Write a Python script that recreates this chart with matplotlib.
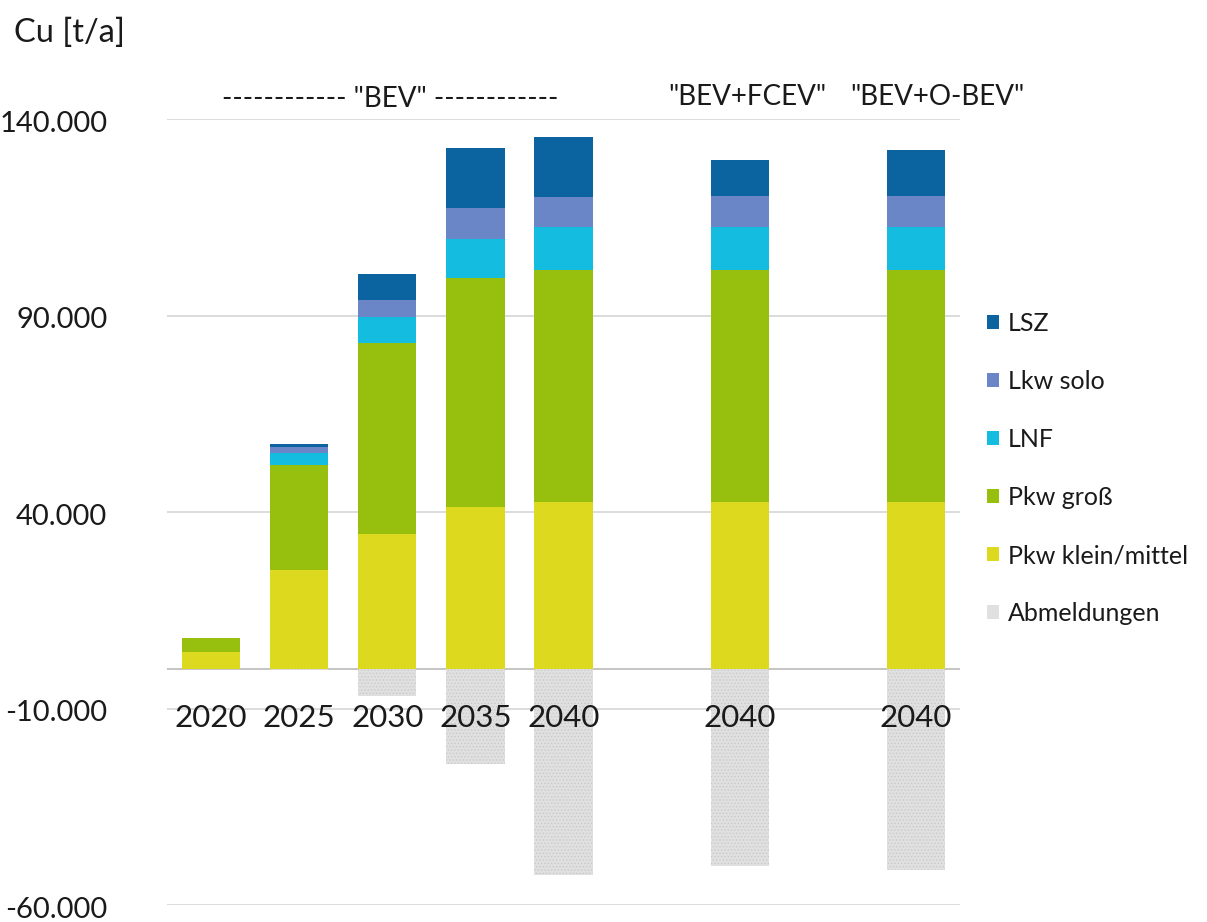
import numpy as np
import matplotlib
matplotlib.use("Agg")
import matplotlib.pyplot as plt
from matplotlib.patches import Patch
from matplotlib.transforms import ScaledTranslation

plt.rcParams['font.family'] = ['Lato', 'DejaVu Sans']
plt.rcParams['hatch.color'] = '#c9c9c9'
plt.rcParams['hatch.linewidth'] = 0.6

# Kupferbedarf je Fahrzeugsegment [t/a]
years = ['2020', '2025', '2030', '2035', '2040', '2040', '2040']
pkw_klein = [4300, 25300, 34400, 41300, 42500, 42500, 42500]
pkw_gross = [3600, 26700, 48700, 58300, 59100, 59100, 59100]
lnf = [0, 3000, 6500, 9900, 10900, 10800, 10800]
lkw_solo = [0, 1600, 4400, 7800, 7600, 7900, 7900]
lsz = [0, 700, 6500, 15300, 15300, 9300, 11700]
abmeldungen = [0, -300, -6900, -24000, -52300, -50000, -51200]

series = [
    ('Pkw klein/mittel', pkw_klein, '#dcd91e'),
    ('Pkw groß', pkw_gross, '#97bf0d'),
    ('LNF', lnf, '#14bde0'),
    ('Lkw solo', lkw_solo, '#6a86c6'),
    ('LSZ', lsz, '#0b64a0'),
]

# gaps between the BEV block and the two scenarios
xpos = np.array([0, 1, 2, 3, 4, 6, 8])
width = 0.66

fig = plt.figure(figsize=(12.07, 9.22), dpi=100)
ax = fig.add_axes([0.1384, 0.0184, 0.6570, 0.8525])

bottom = np.zeros(len(years))
for name, vals, col in series:
    ax.bar(xpos, vals, width, bottom=bottom, color=col, linewidth=0)
    bottom += np.array(vals)
ax.bar(xpos, abmeldungen, width, color='#e0e0e0', hatch='.....', linewidth=0)

ax.set_xlim(-0.5, 8.5)
ax.set_ylim(-60000, 140000)
yt = [-60000, -10000, 40000, 90000, 140000]
ax.set_yticks(yt)
ax.set_yticklabels([f'{v:,}'.replace(',', '.') for v in yt])
ax.yaxis.grid(True, color='#d9d9d9', lw=1.3)
ax.set_axisbelow(True)
ax.axhline(0, color='#c4c4c4', lw=1.4, zorder=0.5)
ax.set_xticks([])
ax.tick_params(axis='y', length=0, pad=43, labelsize=21, labelcolor='#1a1a1a')
# nudge the value labels a little below their gridline
shift = ScaledTranslation(0, -1.5 / 72, fig.dpi_scale_trans)
for t in ax.yaxis.get_major_ticks():
    t.label1.set_transform(t.label1.get_transform() + shift)
for s in ax.spines.values():
    s.set_visible(False)

for x, lab in zip(xpos, years):
    ax.text(x, -12400, lab, ha='center', va='center', fontsize=22.5, color='#1a1a1a')

ax.text(2.03, 145000, '------------ "BEV" ------------', ha='center', va='center',
        fontsize=20, color='#1a1a1a', clip_on=False)
ax.text(6.08, 145500, '"BEV+FCEV"', ha='center', va='center', fontsize=20,
        color='#1a1a1a', clip_on=False)
ax.text(8.24, 145500, '"BEV+O-BEV"', ha='center', va='center', fontsize=20,
        color='#1a1a1a', clip_on=False)
fig.text(0.012, 0.964, 'Cu [t/a]', ha='left', va='center', fontsize=23.5, color='#1a1a1a')

handles = [Patch(facecolor=c, label=n) for n, _, c in series[::-1]]
handles.append(Patch(facecolor='#e0e0e0', label='Abmeldungen'))
fig.legend(handles=handles, loc='upper left', bbox_to_anchor=(0.799, 0.686),
           frameon=False, fontsize=18, labelspacing=1.4, handlelength=0.5,
           handleheight=0.5, handletextpad=0.35, labelcolor='#1a1a1a')

fig.savefig('out.png', dpi=100)
